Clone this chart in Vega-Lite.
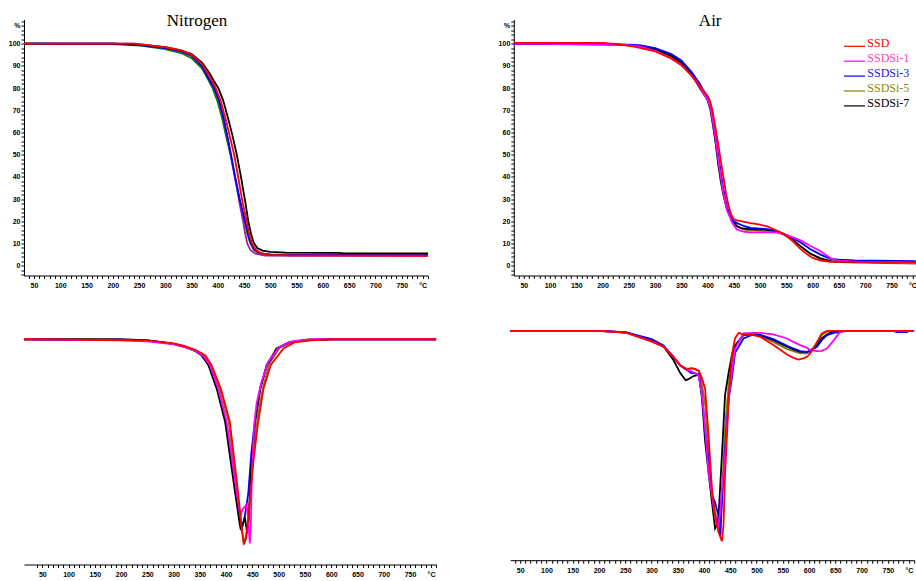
{
"$schema": "https://vega.github.io/schema/vega-lite/v6.json",
"background": "white",
"padding": {"left": 0, "top": 11.5, "right": 0, "bottom": 0},
"datasets": {
"n_tga": [
{"s":"SSDSi-5","T":30,"v":100},{"s":"SSDSi-5","T":200,"v":99.8},{"s":"SSDSi-5","T":250,"v":99.2},{"s":"SSDSi-5","T":300,"v":97.6},{"s":"SSDSi-5","T":330,"v":95.8},{"s":"SSDSi-5","T":350,"v":93.5},{"s":"SSDSi-5","T":370,"v":88.8},{"s":"SSDSi-5","T":380,"v":84.5},{"s":"SSDSi-5","T":390,"v":80},{"s":"SSDSi-5","T":400,"v":73.5},{"s":"SSDSi-5","T":408,"v":66.5},{"s":"SSDSi-5","T":416,"v":58},{"s":"SSDSi-5","T":424,"v":50},{"s":"SSDSi-5","T":432,"v":40.5},{"s":"SSDSi-5","T":441,"v":30},{"s":"SSDSi-5","T":450,"v":20.5},{"s":"SSDSi-5","T":456,"v":14.5},{"s":"SSDSi-5","T":461,"v":10.5},{"s":"SSDSi-5","T":468,"v":7.3},{"s":"SSDSi-5","T":478,"v":5.6},{"s":"SSDSi-5","T":500,"v":5.1},{"s":"SSDSi-5","T":540,"v":5.0},{"s":"SSDSi-5","T":800,"v":5.1},
{"s":"SSDSi-1","T":30,"v":100},{"s":"SSDSi-1","T":240,"v":100},{"s":"SSDSi-1","T":260,"v":99.6},{"s":"SSDSi-1","T":300,"v":98.2},{"s":"SSDSi-1","T":330,"v":96.7},{"s":"SSDSi-1","T":350,"v":94.6},{"s":"SSDSi-1","T":370,"v":90},{"s":"SSDSi-1","T":383,"v":84.5},{"s":"SSDSi-1","T":393,"v":80.3},{"s":"SSDSi-1","T":402,"v":74.5},{"s":"SSDSi-1","T":410,"v":67},{"s":"SSDSi-1","T":418,"v":58},{"s":"SSDSi-1","T":425,"v":49.5},{"s":"SSDSi-1","T":433,"v":39},{"s":"SSDSi-1","T":441,"v":28.5},{"s":"SSDSi-1","T":448,"v":20},{"s":"SSDSi-1","T":452,"v":14.5},{"s":"SSDSi-1","T":456,"v":10},{"s":"SSDSi-1","T":462,"v":7},{"s":"SSDSi-1","T":472,"v":5.4},{"s":"SSDSi-1","T":490,"v":4.6},{"s":"SSDSi-1","T":540,"v":4.4},{"s":"SSDSi-1","T":800,"v":4.4},
{"s":"SSDSi-3","T":30,"v":100},{"s":"SSDSi-3","T":200,"v":100},{"s":"SSDSi-3","T":250,"v":99.4},{"s":"SSDSi-3","T":300,"v":98},{"s":"SSDSi-3","T":330,"v":96.5},{"s":"SSDSi-3","T":350,"v":94.5},{"s":"SSDSi-3","T":370,"v":89.8},{"s":"SSDSi-3","T":383,"v":84},{"s":"SSDSi-3","T":393,"v":80},{"s":"SSDSi-3","T":402,"v":74.5},{"s":"SSDSi-3","T":410,"v":67.5},{"s":"SSDSi-3","T":418,"v":58.5},{"s":"SSDSi-3","T":425,"v":50},{"s":"SSDSi-3","T":433,"v":40},{"s":"SSDSi-3","T":442,"v":29.5},{"s":"SSDSi-3","T":452,"v":20},{"s":"SSDSi-3","T":458,"v":14},{"s":"SSDSi-3","T":463,"v":10},{"s":"SSDSi-3","T":470,"v":7.2},{"s":"SSDSi-3","T":480,"v":5.7},{"s":"SSDSi-3","T":500,"v":5},{"s":"SSDSi-3","T":540,"v":4.9},{"s":"SSDSi-3","T":800,"v":4.8},
{"s":"SSDSi-7","T":30,"v":100},{"s":"SSDSi-7","T":200,"v":100},{"s":"SSDSi-7","T":250,"v":99.6},{"s":"SSDSi-7","T":300,"v":98.4},{"s":"SSDSi-7","T":330,"v":97},{"s":"SSDSi-7","T":350,"v":95.3},{"s":"SSDSi-7","T":370,"v":91.5},{"s":"SSDSi-7","T":385,"v":86.5},{"s":"SSDSi-7","T":393,"v":83},{"s":"SSDSi-7","T":401,"v":80},{"s":"SSDSi-7","T":410,"v":74.5},{"s":"SSDSi-7","T":420,"v":66},{"s":"SSDSi-7","T":428,"v":58.5},{"s":"SSDSi-7","T":436,"v":50},{"s":"SSDSi-7","T":444,"v":40},{"s":"SSDSi-7","T":452,"v":29},{"s":"SSDSi-7","T":458,"v":20},{"s":"SSDSi-7","T":463,"v":14.5},{"s":"SSDSi-7","T":468,"v":10.5},{"s":"SSDSi-7","T":475,"v":8},{"s":"SSDSi-7","T":485,"v":6.8},{"s":"SSDSi-7","T":500,"v":6.2},{"s":"SSDSi-7","T":530,"v":5.9},{"s":"SSDSi-7","T":630,"v":5.8},{"s":"SSDSi-7","T":640,"v":5.6},{"s":"SSDSi-7","T":800,"v":5.6},
{"s":"SSD","T":30,"v":100},{"s":"SSD","T":240,"v":100},{"s":"SSD","T":260,"v":99.5},{"s":"SSD","T":300,"v":98.4},{"s":"SSD","T":330,"v":97},{"s":"SSD","T":350,"v":95},{"s":"SSD","T":370,"v":90.8},{"s":"SSD","T":385,"v":85},{"s":"SSD","T":396,"v":80},{"s":"SSD","T":405,"v":74.5},{"s":"SSD","T":415,"v":66},{"s":"SSD","T":423,"v":58},{"s":"SSD","T":431,"v":50},{"s":"SSD","T":439,"v":39.5},{"s":"SSD","T":447,"v":28.5},{"s":"SSD","T":455,"v":20},{"s":"SSD","T":460,"v":14},{"s":"SSD","T":465,"v":10},{"s":"SSD","T":472,"v":7.3},{"s":"SSD","T":482,"v":5.6},{"s":"SSD","T":500,"v":4.9},{"s":"SSD","T":540,"v":4.7},{"s":"SSD","T":800,"v":4.5}
],
"a_tga": [
{"s":"SSDSi-5","T":30,"v":100},{"s":"SSDSi-5","T":100,"v":99.8},{"s":"SSDSi-5","T":250,"v":99.5},{"s":"SSDSi-5","T":300,"v":97.7},{"s":"SSDSi-5","T":330,"v":95},{"s":"SSDSi-5","T":350,"v":92},{"s":"SSDSi-5","T":370,"v":87},{"s":"SSDSi-5","T":385,"v":81.5},{"s":"SSDSi-5","T":395,"v":77.5},{"s":"SSDSi-5","T":400,"v":76},{"s":"SSDSi-5","T":405,"v":72.5},{"s":"SSDSi-5","T":410,"v":65.5},{"s":"SSDSi-5","T":415,"v":57},{"s":"SSDSi-5","T":420,"v":48},{"s":"SSDSi-5","T":425,"v":40},{"s":"SSDSi-5","T":430,"v":33},{"s":"SSDSi-5","T":437,"v":25.5},{"s":"SSDSi-5","T":447,"v":20},{"s":"SSDSi-5","T":456,"v":17.7},{"s":"SSDSi-5","T":470,"v":16.3},{"s":"SSDSi-5","T":482,"v":15.9},{"s":"SSDSi-5","T":513,"v":15.8},{"s":"SSDSi-5","T":530,"v":15.2},{"s":"SSDSi-5","T":545,"v":14},{"s":"SSDSi-5","T":560,"v":11.8},{"s":"SSDSi-5","T":577,"v":8.8},{"s":"SSDSi-5","T":595,"v":5.5},{"s":"SSDSi-5","T":615,"v":3},{"s":"SSDSi-5","T":635,"v":1.8},{"s":"SSDSi-5","T":680,"v":1.4},{"s":"SSDSi-5","T":800,"v":1.0},
{"s":"SSDSi-7","T":30,"v":100},{"s":"SSDSi-7","T":200,"v":100},{"s":"SSDSi-7","T":230,"v":99.7},{"s":"SSDSi-7","T":260,"v":99},{"s":"SSDSi-7","T":300,"v":97.5},{"s":"SSDSi-7","T":330,"v":94.5},{"s":"SSDSi-7","T":350,"v":91.5},{"s":"SSDSi-7","T":370,"v":86},{"s":"SSDSi-7","T":385,"v":80},{"s":"SSDSi-7","T":395,"v":76.5},{"s":"SSDSi-7","T":400,"v":74.5},{"s":"SSDSi-7","T":405,"v":70.5},{"s":"SSDSi-7","T":410,"v":63.5},{"s":"SSDSi-7","T":415,"v":55.5},{"s":"SSDSi-7","T":420,"v":46},{"s":"SSDSi-7","T":425,"v":38},{"s":"SSDSi-7","T":430,"v":32},{"s":"SSDSi-7","T":435,"v":27},{"s":"SSDSi-7","T":440,"v":23.5},{"s":"SSDSi-7","T":447,"v":20.5},{"s":"SSDSi-7","T":455,"v":18},{"s":"SSDSi-7","T":465,"v":16.8},{"s":"SSDSi-7","T":480,"v":16.5},{"s":"SSDSi-7","T":510,"v":16.3},{"s":"SSDSi-7","T":530,"v":15.5},{"s":"SSDSi-7","T":545,"v":14.3},{"s":"SSDSi-7","T":560,"v":12},{"s":"SSDSi-7","T":577,"v":8.7},{"s":"SSDSi-7","T":595,"v":5.5},{"s":"SSDSi-7","T":615,"v":3.3},{"s":"SSDSi-7","T":635,"v":2.1},{"s":"SSDSi-7","T":660,"v":1.8},{"s":"SSDSi-7","T":700,"v":1.6},{"s":"SSDSi-7","T":800,"v":1.2},
{"s":"SSDSi-3","T":30,"v":100},{"s":"SSDSi-3","T":250,"v":99.6},{"s":"SSDSi-3","T":270,"v":99.3},{"s":"SSDSi-3","T":300,"v":98},{"s":"SSDSi-3","T":330,"v":95.5},{"s":"SSDSi-3","T":350,"v":92.5},{"s":"SSDSi-3","T":370,"v":87},{"s":"SSDSi-3","T":385,"v":82},{"s":"SSDSi-3","T":395,"v":77.5},{"s":"SSDSi-3","T":400,"v":75.5},{"s":"SSDSi-3","T":405,"v":72},{"s":"SSDSi-3","T":410,"v":66},{"s":"SSDSi-3","T":415,"v":58},{"s":"SSDSi-3","T":420,"v":50},{"s":"SSDSi-3","T":425,"v":42},{"s":"SSDSi-3","T":430,"v":34.5},{"s":"SSDSi-3","T":435,"v":28.5},{"s":"SSDSi-3","T":440,"v":24},{"s":"SSDSi-3","T":447,"v":20.5},{"s":"SSDSi-3","T":456,"v":19.2},{"s":"SSDSi-3","T":470,"v":17.8},{"s":"SSDSi-3","T":482,"v":17},{"s":"SSDSi-3","T":513,"v":16.5},{"s":"SSDSi-3","T":530,"v":15.8},{"s":"SSDSi-3","T":545,"v":14.3},{"s":"SSDSi-3","T":560,"v":12.6},{"s":"SSDSi-3","T":577,"v":10.5},{"s":"SSDSi-3","T":595,"v":7.5},{"s":"SSDSi-3","T":615,"v":5},{"s":"SSDSi-3","T":634,"v":3.1},{"s":"SSDSi-3","T":650,"v":2.7},{"s":"SSDSi-3","T":680,"v":2.4},{"s":"SSDSi-3","T":800,"v":2.1},
{"s":"SSDSi-1","T":30,"v":100},{"s":"SSDSi-1","T":240,"v":99.6},{"s":"SSDSi-1","T":270,"v":98.8},{"s":"SSDSi-1","T":300,"v":96.8},{"s":"SSDSi-1","T":330,"v":93.5},{"s":"SSDSi-1","T":350,"v":90.3},{"s":"SSDSi-1","T":370,"v":85.5},{"s":"SSDSi-1","T":385,"v":80.5},{"s":"SSDSi-1","T":395,"v":76.5},{"s":"SSDSi-1","T":400,"v":74.8},{"s":"SSDSi-1","T":405,"v":71.5},{"s":"SSDSi-1","T":410,"v":65},{"s":"SSDSi-1","T":415,"v":57},{"s":"SSDSi-1","T":420,"v":48},{"s":"SSDSi-1","T":425,"v":40},{"s":"SSDSi-1","T":430,"v":32.5},{"s":"SSDSi-1","T":437,"v":25},{"s":"SSDSi-1","T":447,"v":19.2},{"s":"SSDSi-1","T":456,"v":16.2},{"s":"SSDSi-1","T":470,"v":15.3},{"s":"SSDSi-1","T":482,"v":15},{"s":"SSDSi-1","T":513,"v":15.1},{"s":"SSDSi-1","T":530,"v":15},{"s":"SSDSi-1","T":545,"v":14.3},{"s":"SSDSi-1","T":560,"v":13},{"s":"SSDSi-1","T":577,"v":11.4},{"s":"SSDSi-1","T":595,"v":9},{"s":"SSDSi-1","T":615,"v":6.5},{"s":"SSDSi-1","T":634,"v":3.4},{"s":"SSDSi-1","T":650,"v":2.2},{"s":"SSDSi-1","T":700,"v":1.6},{"s":"SSDSi-1","T":800,"v":1.1},
{"s":"SSD","T":30,"v":100.4},{"s":"SSD","T":200,"v":100.4},{"s":"SSD","T":230,"v":99.7},{"s":"SSD","T":260,"v":98.7},{"s":"SSD","T":300,"v":96.5},{"s":"SSD","T":330,"v":93.5},{"s":"SSD","T":350,"v":90.5},{"s":"SSD","T":370,"v":85.5},{"s":"SSD","T":385,"v":81},{"s":"SSD","T":395,"v":78},{"s":"SSD","T":400,"v":76.5},{"s":"SSD","T":405,"v":74},{"s":"SSD","T":410,"v":69},{"s":"SSD","T":415,"v":62},{"s":"SSD","T":420,"v":55},{"s":"SSD","T":425,"v":47.5},{"s":"SSD","T":430,"v":40},{"s":"SSD","T":435,"v":32.5},{"s":"SSD","T":440,"v":27},{"s":"SSD","T":445,"v":23},{"s":"SSD","T":450,"v":21},{"s":"SSD","T":456,"v":20.4},{"s":"SSD","T":470,"v":19.8},{"s":"SSD","T":482,"v":19.2},{"s":"SSD","T":500,"v":18.5},{"s":"SSD","T":515,"v":17.6},{"s":"SSD","T":530,"v":16},{"s":"SSD","T":545,"v":14.4},{"s":"SSD","T":560,"v":11.5},{"s":"SSD","T":577,"v":7.5},{"s":"SSD","T":590,"v":5},{"s":"SSD","T":600,"v":3.5},{"s":"SSD","T":615,"v":2.3},{"s":"SSD","T":630,"v":1.9},{"s":"SSD","T":700,"v":1.7},{"s":"SSD","T":800,"v":1.5}
],
"n_dtg": [
{"s":"SSDSi-5","T":15,"v":0},{"s":"SSDSi-5","T":250,"v":-0.01},{"s":"SSDSi-5","T":300,"v":-0.045},{"s":"SSDSi-5","T":340,"v":-0.105},{"s":"SSDSi-5","T":358,"v":-0.155},{"s":"SSDSi-5","T":370,"v":-0.25},{"s":"SSDSi-5","T":388,"v":-0.48},{"s":"SSDSi-5","T":405,"v":-0.8},{"s":"SSDSi-5","T":420,"v":-1.45},{"s":"SSDSi-5","T":429,"v":-1.8},{"s":"SSDSi-5","T":433,"v":-1.97},{"s":"SSDSi-5","T":437,"v":-1.92},{"s":"SSDSi-5","T":441,"v":-1.8},{"s":"SSDSi-5","T":446,"v":-1.45},{"s":"SSDSi-5","T":452,"v":-1.1},{"s":"SSDSi-5","T":460,"v":-0.75},{"s":"SSDSi-5","T":470,"v":-0.47},{"s":"SSDSi-5","T":482,"v":-0.24},{"s":"SSDSi-5","T":502,"v":-0.08},{"s":"SSDSi-5","T":530,"v":-0.02},{"s":"SSDSi-5","T":560,"v":0},{"s":"SSDSi-5","T":800,"v":0},
{"s":"SSDSi-3","T":15,"v":0},{"s":"SSDSi-3","T":250,"v":-0.01},{"s":"SSDSi-3","T":300,"v":-0.045},{"s":"SSDSi-3","T":320,"v":-0.07},{"s":"SSDSi-3","T":340,"v":-0.11},{"s":"SSDSi-3","T":355,"v":-0.16},{"s":"SSDSi-3","T":368,"v":-0.25},{"s":"SSDSi-3","T":384,"v":-0.48},{"s":"SSDSi-3","T":400,"v":-0.8},{"s":"SSDSi-3","T":418,"v":-1.45},{"s":"SSDSi-3","T":427,"v":-1.74},{"s":"SSDSi-3","T":431,"v":-1.82},{"s":"SSDSi-3","T":436,"v":-1.7},{"s":"SSDSi-3","T":442,"v":-1.5},{"s":"SSDSi-3","T":448,"v":-1.1},{"s":"SSDSi-3","T":455,"v":-0.78},{"s":"SSDSi-3","T":465,"v":-0.47},{"s":"SSDSi-3","T":478,"v":-0.25},{"s":"SSDSi-3","T":498,"v":-0.09},{"s":"SSDSi-3","T":520,"v":-0.03},{"s":"SSDSi-3","T":550,"v":-0.01},{"s":"SSDSi-3","T":600,"v":0},{"s":"SSDSi-3","T":800,"v":0},
{"s":"SSDSi-7","T":15,"v":0},{"s":"SSDSi-7","T":200,"v":0},{"s":"SSDSi-7","T":250,"v":-0.01},{"s":"SSDSi-7","T":280,"v":-0.03},{"s":"SSDSi-7","T":300,"v":-0.045},{"s":"SSDSi-7","T":320,"v":-0.07},{"s":"SSDSi-7","T":340,"v":-0.11},{"s":"SSDSi-7","T":353,"v":-0.155},{"s":"SSDSi-7","T":366,"v":-0.25},{"s":"SSDSi-7","T":382,"v":-0.48},{"s":"SSDSi-7","T":398,"v":-0.8},{"s":"SSDSi-7","T":416,"v":-1.45},{"s":"SSDSi-7","T":426,"v":-1.8},{"s":"SSDSi-7","T":428,"v":-1.85},{"s":"SSDSi-7","T":432,"v":-1.78},{"s":"SSDSi-7","T":436,"v":-1.74},{"s":"SSDSi-7","T":440,"v":-1.88},{"s":"SSDSi-7","T":443,"v":-1.75},{"s":"SSDSi-7","T":448,"v":-1.25},{"s":"SSDSi-7","T":455,"v":-0.8},{"s":"SSDSi-7","T":465,"v":-0.48},{"s":"SSDSi-7","T":477,"v":-0.25},{"s":"SSDSi-7","T":496,"v":-0.09},{"s":"SSDSi-7","T":520,"v":-0.03},{"s":"SSDSi-7","T":550,"v":-0.01},{"s":"SSDSi-7","T":600,"v":0},{"s":"SSDSi-7","T":800,"v":0},
{"s":"SSDSi-1","T":15,"v":0},{"s":"SSDSi-1","T":200,"v":-0.01},{"s":"SSDSi-1","T":250,"v":-0.02},{"s":"SSDSi-1","T":300,"v":-0.05},{"s":"SSDSi-1","T":320,"v":-0.075},{"s":"SSDSi-1","T":340,"v":-0.11},{"s":"SSDSi-1","T":356,"v":-0.16},{"s":"SSDSi-1","T":369,"v":-0.25},{"s":"SSDSi-1","T":385,"v":-0.48},{"s":"SSDSi-1","T":401,"v":-0.8},{"s":"SSDSi-1","T":419,"v":-1.45},{"s":"SSDSi-1","T":427,"v":-1.72},{"s":"SSDSi-1","T":431,"v":-1.65},{"s":"SSDSi-1","T":436,"v":-1.62},{"s":"SSDSi-1","T":439,"v":-1.6},{"s":"SSDSi-1","T":442,"v":-1.75},{"s":"SSDSi-1","T":445,"v":-1.98},{"s":"SSDSi-1","T":447,"v":-1.8},{"s":"SSDSi-1","T":449,"v":-1.3},{"s":"SSDSi-1","T":453,"v":-0.85},{"s":"SSDSi-1","T":458,"v":-0.62},{"s":"SSDSi-1","T":467,"v":-0.42},{"s":"SSDSi-1","T":480,"v":-0.22},{"s":"SSDSi-1","T":500,"v":-0.08},{"s":"SSDSi-1","T":525,"v":-0.02},{"s":"SSDSi-1","T":560,"v":0},{"s":"SSDSi-1","T":800,"v":0},
{"s":"SSD","T":15,"v":0},{"s":"SSD","T":250,"v":-0.01},{"s":"SSD","T":300,"v":-0.04},{"s":"SSD","T":320,"v":-0.065},{"s":"SSD","T":340,"v":-0.1},{"s":"SSD","T":360,"v":-0.155},{"s":"SSD","T":372,"v":-0.25},{"s":"SSD","T":390,"v":-0.48},{"s":"SSD","T":407,"v":-0.8},{"s":"SSD","T":422,"v":-1.45},{"s":"SSD","T":430,"v":-1.85},{"s":"SSD","T":434,"v":-1.99},{"s":"SSD","T":438,"v":-1.93},{"s":"SSD","T":442,"v":-1.75},{"s":"SSD","T":447,"v":-1.45},{"s":"SSD","T":452,"v":-1.18},{"s":"SSD","T":461,"v":-0.8},{"s":"SSD","T":471,"v":-0.48},{"s":"SSD","T":485,"v":-0.25},{"s":"SSD","T":509,"v":-0.09},{"s":"SSD","T":530,"v":-0.03},{"s":"SSD","T":560,"v":-0.01},{"s":"SSD","T":600,"v":0},{"s":"SSD","T":800,"v":0}
],
"a_dtg": [
{"s":"SSDSi-5","T":30,"v":0},{"s":"SSDSi-5","T":200,"v":0},{"s":"SSDSi-5","T":251,"v":-0.016},{"s":"SSDSi-5","T":300,"v":-0.095},{"s":"SSDSi-5","T":323,"v":-0.15},{"s":"SSDSi-5","T":342,"v":-0.25},{"s":"SSDSi-5","T":355,"v":-0.33},{"s":"SSDSi-5","T":367,"v":-0.36},{"s":"SSDSi-5","T":375,"v":-0.36},{"s":"SSDSi-5","T":382,"v":-0.365},{"s":"SSDSi-5","T":390,"v":-0.38},{"s":"SSDSi-5","T":396,"v":-0.5},{"s":"SSDSi-5","T":402,"v":-0.7},{"s":"SSDSi-5","T":409,"v":-1.18},{"s":"SSDSi-5","T":415,"v":-1.55},{"s":"SSDSi-5","T":421,"v":-1.72},{"s":"SSDSi-5","T":427,"v":-1.86},{"s":"SSDSi-5","T":431,"v":-1.88},{"s":"SSDSi-5","T":434,"v":-1.57},{"s":"SSDSi-5","T":440,"v":-0.93},{"s":"SSDSi-5","T":447,"v":-0.5},{"s":"SSDSi-5","T":453,"v":-0.3},{"s":"SSDSi-5","T":459,"v":-0.15},{"s":"SSDSi-5","T":475,"v":-0.04},{"s":"SSDSi-5","T":494,"v":-0.035},{"s":"SSDSi-5","T":507,"v":-0.048},{"s":"SSDSi-5","T":532,"v":-0.105},{"s":"SSDSi-5","T":558,"v":-0.174},{"s":"SSDSi-5","T":570,"v":-0.193},{"s":"SSDSi-5","T":583,"v":-0.215},{"s":"SSDSi-5","T":596,"v":-0.215},{"s":"SSDSi-5","T":602,"v":-0.2},{"s":"SSDSi-5","T":615,"v":-0.136},{"s":"SSDSi-5","T":624,"v":-0.041},{"s":"SSDSi-5","T":634,"v":-0.01},{"s":"SSDSi-5","T":647,"v":0},{"s":"SSDSi-5","T":800,"v":0},
{"s":"SSDSi-7","T":30,"v":0},{"s":"SSDSi-7","T":200,"v":0},{"s":"SSDSi-7","T":251,"v":-0.016},{"s":"SSDSi-7","T":300,"v":-0.095},{"s":"SSDSi-7","T":323,"v":-0.15},{"s":"SSDSi-7","T":342,"v":-0.28},{"s":"SSDSi-7","T":355,"v":-0.405},{"s":"SSDSi-7","T":365,"v":-0.47},{"s":"SSDSi-7","T":370,"v":-0.46},{"s":"SSDSi-7","T":380,"v":-0.43},{"s":"SSDSi-7","T":390,"v":-0.42},{"s":"SSDSi-7","T":396,"v":-0.64},{"s":"SSDSi-7","T":402,"v":-1.05},{"s":"SSDSi-7","T":409,"v":-1.37},{"s":"SSDSi-7","T":415,"v":-1.63},{"s":"SSDSi-7","T":421,"v":-1.88},{"s":"SSDSi-7","T":427,"v":-1.82},{"s":"SSDSi-7","T":434,"v":-1.18},{"s":"SSDSi-7","T":440,"v":-0.61},{"s":"SSDSi-7","T":447,"v":-0.39},{"s":"SSDSi-7","T":453,"v":-0.23},{"s":"SSDSi-7","T":459,"v":-0.14},{"s":"SSDSi-7","T":475,"v":-0.04},{"s":"SSDSi-7","T":494,"v":-0.03},{"s":"SSDSi-7","T":507,"v":-0.04},{"s":"SSDSi-7","T":532,"v":-0.089},{"s":"SSDSi-7","T":558,"v":-0.152},{"s":"SSDSi-7","T":570,"v":-0.178},{"s":"SSDSi-7","T":583,"v":-0.2},{"s":"SSDSi-7","T":596,"v":-0.2},{"s":"SSDSi-7","T":602,"v":-0.19},{"s":"SSDSi-7","T":615,"v":-0.136},{"s":"SSDSi-7","T":624,"v":-0.073},{"s":"SSDSi-7","T":634,"v":-0.035},{"s":"SSDSi-7","T":647,"v":-0.003},{"s":"SSDSi-7","T":672,"v":0},{"s":"SSDSi-7","T":800,"v":0},
{"s":"SSDSi-3","T":30,"v":0},{"s":"SSDSi-3","T":200,"v":0},{"s":"SSDSi-3","T":251,"v":-0.012},{"s":"SSDSi-3","T":300,"v":-0.08},{"s":"SSDSi-3","T":323,"v":-0.14},{"s":"SSDSi-3","T":342,"v":-0.25},{"s":"SSDSi-3","T":355,"v":-0.33},{"s":"SSDSi-3","T":367,"v":-0.37},{"s":"SSDSi-3","T":375,"v":-0.4},{"s":"SSDSi-3","T":382,"v":-0.405},{"s":"SSDSi-3","T":390,"v":-0.415},{"s":"SSDSi-3","T":396,"v":-0.61},{"s":"SSDSi-3","T":402,"v":-0.95},{"s":"SSDSi-3","T":409,"v":-1.25},{"s":"SSDSi-3","T":415,"v":-1.56},{"s":"SSDSi-3","T":421,"v":-1.63},{"s":"SSDSi-3","T":427,"v":-1.75},{"s":"SSDSi-3","T":431,"v":-1.95},{"s":"SSDSi-3","T":434,"v":-1.63},{"s":"SSDSi-3","T":440,"v":-1.12},{"s":"SSDSi-3","T":447,"v":-0.64},{"s":"SSDSi-3","T":453,"v":-0.45},{"s":"SSDSi-3","T":459,"v":-0.21},{"s":"SSDSi-3","T":475,"v":-0.073},{"s":"SSDSi-3","T":494,"v":-0.035},{"s":"SSDSi-3","T":507,"v":-0.04},{"s":"SSDSi-3","T":532,"v":-0.079},{"s":"SSDSi-3","T":558,"v":-0.143},{"s":"SSDSi-3","T":570,"v":-0.168},{"s":"SSDSi-3","T":583,"v":-0.193},{"s":"SSDSi-3","T":596,"v":-0.2},{"s":"SSDSi-3","T":602,"v":-0.19},{"s":"SSDSi-3","T":615,"v":-0.152},{"s":"SSDSi-3","T":624,"v":-0.089},{"s":"SSDSi-3","T":634,"v":-0.041},{"s":"SSDSi-3","T":647,"v":-0.019},{"s":"SSDSi-3","T":659,"v":-0.01},{"s":"SSDSi-3","T":672,"v":0},{"s":"SSDSi-3","T":760,"v":0},{"s":"SSDSi-3","T":767,"v":-0.013},{"s":"SSDSi-3","T":786,"v":-0.013},{"s":"SSDSi-3","T":790,"v":0},{"s":"SSDSi-3","T":800,"v":0},
{"s":"SSDSi-1","T":30,"v":0},{"s":"SSDSi-1","T":200,"v":0},{"s":"SSDSi-1","T":251,"v":-0.018},{"s":"SSDSi-1","T":300,"v":-0.1},{"s":"SSDSi-1","T":323,"v":-0.15},{"s":"SSDSi-1","T":342,"v":-0.25},{"s":"SSDSi-1","T":355,"v":-0.33},{"s":"SSDSi-1","T":367,"v":-0.37},{"s":"SSDSi-1","T":375,"v":-0.385},{"s":"SSDSi-1","T":382,"v":-0.4},{"s":"SSDSi-1","T":390,"v":-0.43},{"s":"SSDSi-1","T":396,"v":-0.61},{"s":"SSDSi-1","T":402,"v":-0.93},{"s":"SSDSi-1","T":409,"v":-1.37},{"s":"SSDSi-1","T":415,"v":-1.56},{"s":"SSDSi-1","T":421,"v":-1.78},{"s":"SSDSi-1","T":427,"v":-1.88},{"s":"SSDSi-1","T":431,"v":-1.7},{"s":"SSDSi-1","T":434,"v":-1.5},{"s":"SSDSi-1","T":440,"v":-1.18},{"s":"SSDSi-1","T":447,"v":-0.64},{"s":"SSDSi-1","T":453,"v":-0.39},{"s":"SSDSi-1","T":459,"v":-0.17},{"s":"SSDSi-1","T":475,"v":-0.025},{"s":"SSDSi-1","T":494,"v":-0.02},{"s":"SSDSi-1","T":507,"v":-0.02},{"s":"SSDSi-1","T":532,"v":-0.035},{"s":"SSDSi-1","T":558,"v":-0.073},{"s":"SSDSi-1","T":570,"v":-0.105},{"s":"SSDSi-1","T":583,"v":-0.136},{"s":"SSDSi-1","T":596,"v":-0.162},{"s":"SSDSi-1","T":602,"v":-0.184},{"s":"SSDSi-1","T":615,"v":-0.193},{"s":"SSDSi-1","T":624,"v":-0.19},{"s":"SSDSi-1","T":634,"v":-0.168},{"s":"SSDSi-1","T":647,"v":-0.089},{"s":"SSDSi-1","T":659,"v":-0.01},{"s":"SSDSi-1","T":672,"v":0},{"s":"SSDSi-1","T":800,"v":0},
{"s":"SSD","T":30,"v":0},{"s":"SSD","T":200,"v":0},{"s":"SSD","T":251,"v":-0.016},{"s":"SSD","T":300,"v":-0.1},{"s":"SSD","T":323,"v":-0.15},{"s":"SSD","T":342,"v":-0.25},{"s":"SSD","T":355,"v":-0.33},{"s":"SSD","T":367,"v":-0.37},{"s":"SSD","T":375,"v":-0.355},{"s":"SSD","T":382,"v":-0.36},{"s":"SSD","T":390,"v":-0.38},{"s":"SSD","T":396,"v":-0.45},{"s":"SSD","T":402,"v":-0.55},{"s":"SSD","T":409,"v":-1.02},{"s":"SSD","T":415,"v":-1.5},{"s":"SSD","T":421,"v":-1.75},{"s":"SSD","T":427,"v":-1.91},{"s":"SSD","T":434,"v":-2.0},{"s":"SSD","T":437,"v":-1.85},{"s":"SSD","T":440,"v":-1.37},{"s":"SSD","T":447,"v":-0.64},{"s":"SSD","T":453,"v":-0.23},{"s":"SSD","T":459,"v":-0.07},{"s":"SSD","T":466,"v":-0.02},{"s":"SSD","T":475,"v":-0.035},{"s":"SSD","T":494,"v":-0.04},{"s":"SSD","T":507,"v":-0.057},{"s":"SSD","T":532,"v":-0.136},{"s":"SSD","T":558,"v":-0.225},{"s":"SSD","T":570,"v":-0.257},{"s":"SSD","T":580,"v":-0.273},{"s":"SSD","T":590,"v":-0.26},{"s":"SSD","T":596,"v":-0.247},{"s":"SSD","T":602,"v":-0.216},{"s":"SSD","T":615,"v":-0.105},{"s":"SSD","T":624,"v":-0.025},{"s":"SSD","T":634,"v":0},{"s":"SSD","T":800,"v":0}
]
},
"spacing": 9.5,
"resolve": {"scale": {"x": "independent", "y": "independent", "color": "independent"}},
"vconcat": [
{
"spacing": 67.8,
"resolve": {"scale": {"x": "independent", "y": "independent", "color": "independent"}},
"hconcat": [
{
"width": 404, "height": 256,
"title": {"text": "Nitrogen", "font": "Liberation Serif", "fontSize": 17, "fontWeight": "normal", "baseline": "alphabetic", "offset": -26, "dx": -29, "anchor": "middle", "color": "black"},
"data": {"name": "n_tga"},
"mark": {"type": "line", "strokeWidth": 1.8, "clip": true},
"encoding": {
"x": {"field": "T", "type": "quantitative", "scale": {"domain": [31, 800], "nice": false, "zero": false},
"axis": {"title": null, "values": [40,50,60,70,80,90,100,110,120,130,140,150,160,170,180,190,200,210,220,230,240,250,260,270,280,290,300,310,320,330,340,350,360,370,380,390,400,410,420,430,440,450,460,470,480,490,500,510,520,530,540,550,560,570,580,590,600,610,620,630,640,650,660,670,680,690,700,710,720,730,740,750,760,770,780,790,800], "labelExpr": "datum.value == 790 ? '°C' : (datum.value % 50 == 0 && datum.value <= 750 ? datum.label : '')", "labelPadding": 3}},
"y": {"field": "v", "type": "quantitative", "scale": {"domain": [-4.4, 110.9], "nice": false, "zero": false},
"axis": {"title": null, "values": [-4,-2,0,2,4,6,8,10,12,14,16,18,20,22,24,26,28,30,32,34,36,38,40,42,44,46,48,50,52,54,56,58,60,62,64,66,68,70,72,74,76,78,80,82,84,86,88,90,92,94,96,98,100,102,104,106,108,110], "labelExpr": "datum.value == 108 ? '%' : (datum.value % 10 == 0 && datum.value >= 0 && datum.value <= 100 ? datum.label : '')", "labelPadding": 1, "minExtent": 24, "maxExtent": 24}},
"color": {"field": "s", "type": "nominal", "scale": {"domain": ["SSD","SSDSi-1","SSDSi-3","SSDSi-5","SSDSi-7"], "range": ["#ff0000","#a020a0","#0000ff","#008000","#000000"]}, "legend": null}
}
},
{
"width": 402, "height": 256,
"title": {"text": "Air", "font": "Liberation Serif", "fontSize": 17, "fontWeight": "normal", "baseline": "alphabetic", "offset": -26, "dx": -4.6, "anchor": "middle", "color": "black"},
"data": {"name": "a_tga"},
"mark": {"type": "line", "strokeWidth": 1.8, "clip": true},
"encoding": {
"x": {"field": "T", "type": "quantitative", "scale": {"domain": [31, 796.3], "nice": false, "zero": false},
"axis": {"title": null, "values": [40,50,60,70,80,90,100,110,120,130,140,150,160,170,180,190,200,210,220,230,240,250,260,270,280,290,300,310,320,330,340,350,360,370,380,390,400,410,420,430,440,450,460,470,480,490,500,510,520,530,540,550,560,570,580,590,600,610,620,630,640,650,660,670,680,690,700,710,720,730,740,750,760,770,780,790], "labelExpr": "datum.value == 790 ? '°C' : (datum.value % 50 == 0 && datum.value <= 750 ? datum.label : '')", "labelPadding": 3}},
"y": {"field": "v", "type": "quantitative", "scale": {"domain": [-4.4, 110.9], "nice": false, "zero": false},
"axis": {"title": null, "values": [-4,-2,0,2,4,6,8,10,12,14,16,18,20,22,24,26,28,30,32,34,36,38,40,42,44,46,48,50,52,54,56,58,60,62,64,66,68,70,72,74,76,78,80,82,84,86,88,90,92,94,96,98,100,102,104,106,108,110], "labelExpr": "datum.value == 108 ? '%' : (datum.value % 10 == 0 && datum.value >= 0 && datum.value <= 100 ? datum.label : '')", "labelPadding": 1, "minExtent": 17, "maxExtent": 17}},
"color": {"field": "s", "type": "nominal", "scale": {"domain": ["SSD","SSDSi-1","SSDSi-3","SSDSi-5","SSDSi-7"], "range": ["#ff0000","#ff00ff","#0000ff","#808000","#000000"]},
"legend": {"orient": "none", "legendX": 330.9, "legendY": 16.5, "title": null, "padding": 0, "symbolType": "M-1.28,0.55H2.22", "symbolSize": 144, "symbolStrokeWidth": 1.2, "labelFont": "Liberation Serif", "labelFontSize": 12, "labelOffset": 8.6, "rowPadding": 1.9,
"labelColor": {"expr": "datum.value == 'SSD' ? '#ff0000' : datum.value == 'SSDSi-1' ? '#ff44bb' : datum.value == 'SSDSi-3' ? '#1a1add' : datum.value == 'SSDSi-5' ? '#8a8a00' : '#000000'"}}}
}
}
]
},
{
"spacing": 73.2,
"resolve": {"scale": {"x": "independent", "y": "independent", "color": "independent"}},
"hconcat": [
{
"width": 412.3, "height": 266.5,
"data": {"name": "n_dtg"},
"mark": {"type": "line", "strokeWidth": 1.8, "clip": true},
"encoding": {
"x": {"field": "T", "type": "quantitative", "scale": {"domain": [15.2, 800], "nice": false, "zero": false},
"axis": {"title": null, "values": [40,50,60,70,80,90,100,110,120,130,140,150,160,170,180,190,200,210,220,230,240,250,260,270,280,290,300,310,320,330,340,350,360,370,380,390,400,410,420,430,440,450,460,470,480,490,500,510,520,530,540,550,560,570,580,590,600,610,620,630,640,650,660,670,680,690,700,710,720,730,740,750,760,770,780,790,800], "labelExpr": "datum.value == 790 ? '°C' : (datum.value % 50 == 0 && datum.value <= 750 ? datum.label : '')", "labelPadding": 3}},
"y": {"field": "v", "type": "quantitative", "scale": {"domain": [-2.184, 0.4], "nice": false, "zero": false}, "axis": null},
"color": {"field": "s", "type": "nominal", "scale": {"domain": ["SSD","SSDSi-1","SSDSi-3","SSDSi-5","SSDSi-7"], "range": ["#ff0000","#ff00ff","#0000ff","#808000","#000000"]}, "legend": null}
}
},
{
"width": 404, "height": 262.2,
"data": {"name": "a_dtg"},
"mark": {"type": "line", "strokeWidth": 1.8, "clip": true},
"encoding": {
"x": {"field": "T", "type": "quantitative", "scale": {"domain": [31, 800], "nice": false, "zero": false},
"axis": {"title": null, "values": [40,50,60,70,80,90,100,110,120,130,140,150,160,170,180,190,200,210,220,230,240,250,260,270,280,290,300,310,320,330,340,350,360,370,380,390,400,410,420,430,440,450,460,470,480,490,500,510,520,530,540,550,560,570,580,590,600,610,620,630,640,650,660,670,680,690,700,710,720,730,740,750,760,770,780,790,800], "labelExpr": "datum.value == 790 ? '°C' : (datum.value % 50 == 0 && datum.value <= 750 ? datum.label : '')", "labelPadding": 3}},
"y": {"field": "v", "type": "quantitative", "scale": {"domain": [-2.182, 0.312], "nice": false, "zero": false}, "axis": null},
"color": {"field": "s", "type": "nominal", "scale": {"domain": ["SSD","SSDSi-1","SSDSi-3","SSDSi-5","SSDSi-7"], "range": ["#ff0000","#ff00ff","#0000ff","#808000","#000000"]}, "legend": null}
}
}
]
}
],
"config": {
"view": {"stroke": null},
"axis": {"grid": false, "domainColor": "#000000", "tickColor": "#000000", "labelColor": "#000000", "labelFont": "Liberation Sans", "labelFontWeight": "bold", "labelFontSize": 7, "tickSize": 3, "domainWidth": 1, "tickWidth": 1, "labelOverlap": false, "labelFlush": false}
}
}
